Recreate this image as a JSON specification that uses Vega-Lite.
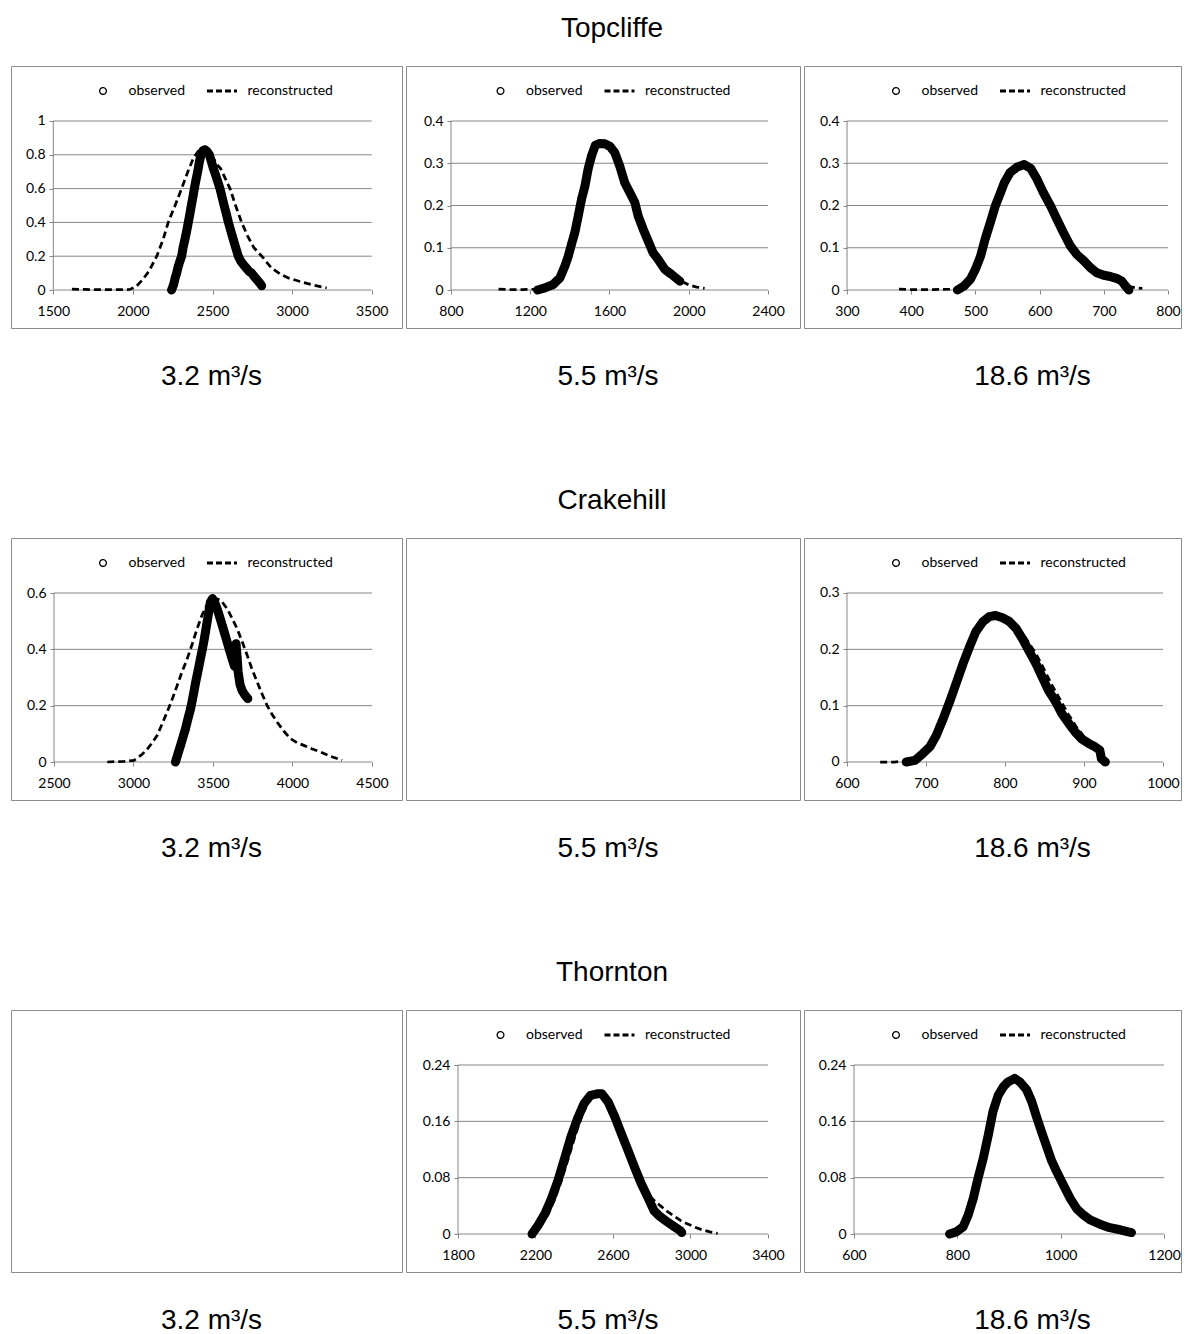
{
"$schema":"https://vega.github.io/schema/vega-lite/v6.json",
"padding":{"left":10,"top":14,"right":5,"bottom":5},
"background":"white",
"spacing":94,
"resolve":{"scale":{"shape":"independent","size":"independent","strokeDash":"independent","strokeWidth":"independent"},"legend":{"shape":"independent","size":"independent","strokeDash":"independent","strokeWidth":"independent"}},
"config":{
 "view":{"stroke":"#8c8c8c","strokeWidth":1},
 "title":{"font":"Liberation Sans","fontSize":28,"fontWeight":"normal","color":"black","anchor":"middle"},
 "axis":{"labelFont":"Lato","labelFontSize":14,"labelColor":"black","tickColor":"#868686","tickSize":4,"tickWidth":1,"domain":false,"grid":false,"labelOverlap":false,"labelFlush":false},
 "axisY":{"labelExpr":"'' + datum.value"},
 "legend":{"labelFont":"Lato","labelFontSize":14,"labelColor":"black","labelOffset":9,"columnPadding":20,"padding":0,"columns":2,"direction":"horizontal","clipHeight":16}
},
"datasets":{
"c":[
{"p":"T1","s":"grid","x":1500,"y":0},{"p":"T1","s":"grid","x":1500,"y":0.2},{"p":"T1","s":"grid","x":1500,"y":0.4},{"p":"T1","s":"grid","x":1500,"y":0.6},{"p":"T1","s":"grid","x":1500,"y":0.8},{"p":"T1","s":"grid","x":1500,"y":1},
{"p":"T2","s":"grid","x":800,"y":0},{"p":"T2","s":"grid","x":800,"y":0.1},{"p":"T2","s":"grid","x":800,"y":0.2},{"p":"T2","s":"grid","x":800,"y":0.3},{"p":"T2","s":"grid","x":800,"y":0.4},
{"p":"T3","s":"grid","x":300,"y":0},{"p":"T3","s":"grid","x":300,"y":0.1},{"p":"T3","s":"grid","x":300,"y":0.2},{"p":"T3","s":"grid","x":300,"y":0.3},{"p":"T3","s":"grid","x":300,"y":0.4},
{"p":"C1","s":"grid","x":2500,"y":0},{"p":"C1","s":"grid","x":2500,"y":0.2},{"p":"C1","s":"grid","x":2500,"y":0.4},{"p":"C1","s":"grid","x":2500,"y":0.6},
{"p":"C3","s":"grid","x":600,"y":0},{"p":"C3","s":"grid","x":600,"y":0.1},{"p":"C3","s":"grid","x":600,"y":0.2},{"p":"C3","s":"grid","x":600,"y":0.3},
{"p":"H2","s":"grid","x":1800,"y":0},{"p":"H2","s":"grid","x":1800,"y":0.08},{"p":"H2","s":"grid","x":1800,"y":0.16},{"p":"H2","s":"grid","x":1800,"y":0.24},
{"p":"H3","s":"grid","x":600,"y":0},{"p":"H3","s":"grid","x":600,"y":0.08},{"p":"H3","s":"grid","x":600,"y":0.16},{"p":"H3","s":"grid","x":600,"y":0.24},
{"p":"T1","s":"observed","x":2243,"y":0},{"p":"T1","s":"observed","x":2255,"y":0.03},{"p":"T1","s":"observed","x":2265,"y":0.07},{"p":"T1","s":"observed","x":2275,"y":0.1},{"p":"T1","s":"observed","x":2285,"y":0.14},{"p":"T1","s":"observed","x":2295,"y":0.17},{"p":"T1","s":"observed","x":2306,"y":0.2},{"p":"T1","s":"observed","x":2315,"y":0.25},{"p":"T1","s":"observed","x":2327,"y":0.3},{"p":"T1","s":"observed","x":2338,"y":0.35},{"p":"T1","s":"observed","x":2348,"y":0.4},{"p":"T1","s":"observed","x":2358,"y":0.45},{"p":"T1","s":"observed","x":2367,"y":0.5},{"p":"T1","s":"observed","x":2377,"y":0.55},{"p":"T1","s":"observed","x":2386,"y":0.6},{"p":"T1","s":"observed","x":2396,"y":0.65},{"p":"T1","s":"observed","x":2407,"y":0.7},{"p":"T1","s":"observed","x":2418,"y":0.76},{"p":"T1","s":"observed","x":2428,"y":0.8},{"p":"T1","s":"observed","x":2440,"y":0.825},{"p":"T1","s":"observed","x":2453,"y":0.83},{"p":"T1","s":"observed","x":2466,"y":0.82},{"p":"T1","s":"observed","x":2480,"y":0.8},{"p":"T1","s":"observed","x":2493,"y":0.76},{"p":"T1","s":"observed","x":2505,"y":0.72},{"p":"T1","s":"observed","x":2516,"y":0.69},{"p":"T1","s":"observed","x":2530,"y":0.65},{"p":"T1","s":"observed","x":2547,"y":0.6},{"p":"T1","s":"observed","x":2560,"y":0.55},{"p":"T1","s":"observed","x":2573,"y":0.5},{"p":"T1","s":"observed","x":2587,"y":0.45},{"p":"T1","s":"observed","x":2600,"y":0.4},{"p":"T1","s":"observed","x":2615,"y":0.35},{"p":"T1","s":"observed","x":2630,"y":0.3},{"p":"T1","s":"observed","x":2646,"y":0.25},{"p":"T1","s":"observed","x":2662,"y":0.2},{"p":"T1","s":"observed","x":2678,"y":0.17},{"p":"T1","s":"observed","x":2694,"y":0.15},{"p":"T1","s":"observed","x":2712,"y":0.13},{"p":"T1","s":"observed","x":2730,"y":0.11},{"p":"T1","s":"observed","x":2746,"y":0.1},{"p":"T1","s":"observed","x":2762,"y":0.08},{"p":"T1","s":"observed","x":2780,"y":0.06},{"p":"T1","s":"observed","x":2798,"y":0.04},{"p":"T1","s":"observed","x":2809,"y":0.025},
{"p":"T1","s":"reconstructed","x":1617,"y":0.005},{"p":"T1","s":"reconstructed","x":1700,"y":0.003},{"p":"T1","s":"reconstructed","x":1800,"y":0.002},{"p":"T1","s":"reconstructed","x":1900,"y":0.002},{"p":"T1","s":"reconstructed","x":1980,"y":0.003},{"p":"T1","s":"reconstructed","x":2020,"y":0.02},{"p":"T1","s":"reconstructed","x":2060,"y":0.06},{"p":"T1","s":"reconstructed","x":2100,"y":0.11},{"p":"T1","s":"reconstructed","x":2150,"y":0.2},{"p":"T1","s":"reconstructed","x":2190,"y":0.3},{"p":"T1","s":"reconstructed","x":2222,"y":0.4},{"p":"T1","s":"reconstructed","x":2243,"y":0.45},{"p":"T1","s":"reconstructed","x":2265,"y":0.5},{"p":"T1","s":"reconstructed","x":2306,"y":0.6},{"p":"T1","s":"reconstructed","x":2345,"y":0.7},{"p":"T1","s":"reconstructed","x":2380,"y":0.78},{"p":"T1","s":"reconstructed","x":2410,"y":0.82},{"p":"T1","s":"reconstructed","x":2440,"y":0.835},{"p":"T1","s":"reconstructed","x":2470,"y":0.82},{"p":"T1","s":"reconstructed","x":2505,"y":0.78},{"p":"T1","s":"reconstructed","x":2530,"y":0.74},{"p":"T1","s":"reconstructed","x":2550,"y":0.72},{"p":"T1","s":"reconstructed","x":2580,"y":0.66},{"p":"T1","s":"reconstructed","x":2610,"y":0.6},{"p":"T1","s":"reconstructed","x":2645,"y":0.5},{"p":"T1","s":"reconstructed","x":2683,"y":0.4},{"p":"T1","s":"reconstructed","x":2720,"y":0.32},{"p":"T1","s":"reconstructed","x":2760,"y":0.25},{"p":"T1","s":"reconstructed","x":2819,"y":0.19},{"p":"T1","s":"reconstructed","x":2870,"y":0.13},{"p":"T1","s":"reconstructed","x":2924,"y":0.095},{"p":"T1","s":"reconstructed","x":2980,"y":0.07},{"p":"T1","s":"reconstructed","x":3050,"y":0.05},{"p":"T1","s":"reconstructed","x":3130,"y":0.03},{"p":"T1","s":"reconstructed","x":3217,"y":0.012},
{"p":"T2","s":"observed","x":1237,"y":0},{"p":"T2","s":"observed","x":1274,"y":0.005},{"p":"T2","s":"observed","x":1316,"y":0.013},{"p":"T2","s":"observed","x":1350,"y":0.029},{"p":"T2","s":"observed","x":1375,"y":0.057},{"p":"T2","s":"observed","x":1392,"y":0.08},{"p":"T2","s":"observed","x":1408,"y":0.108},{"p":"T2","s":"observed","x":1425,"y":0.136},{"p":"T2","s":"observed","x":1442,"y":0.175},{"p":"T2","s":"observed","x":1459,"y":0.215},{"p":"T2","s":"observed","x":1476,"y":0.246},{"p":"T2","s":"observed","x":1492,"y":0.286},{"p":"T2","s":"observed","x":1509,"y":0.317},{"p":"T2","s":"observed","x":1529,"y":0.343},{"p":"T2","s":"observed","x":1551,"y":0.347},{"p":"T2","s":"observed","x":1576,"y":0.346},{"p":"T2","s":"observed","x":1602,"y":0.34},{"p":"T2","s":"observed","x":1627,"y":0.325},{"p":"T2","s":"observed","x":1652,"y":0.293},{"p":"T2","s":"observed","x":1677,"y":0.254},{"p":"T2","s":"observed","x":1703,"y":0.23},{"p":"T2","s":"observed","x":1728,"y":0.207},{"p":"T2","s":"observed","x":1745,"y":0.175},{"p":"T2","s":"observed","x":1770,"y":0.144},{"p":"T2","s":"observed","x":1795,"y":0.116},{"p":"T2","s":"observed","x":1820,"y":0.088},{"p":"T2","s":"observed","x":1845,"y":0.073},{"p":"T2","s":"observed","x":1879,"y":0.049},{"p":"T2","s":"observed","x":1913,"y":0.037},{"p":"T2","s":"observed","x":1955,"y":0.021},
{"p":"T2","s":"reconstructed","x":1040,"y":0.002},{"p":"T2","s":"reconstructed","x":1100,"y":0.001},{"p":"T2","s":"reconstructed","x":1160,"y":0.001},{"p":"T2","s":"reconstructed","x":1220,"y":0.002},{"p":"T2","s":"reconstructed","x":1260,"y":0.004},{"p":"T2","s":"reconstructed","x":1310,"y":0.012},{"p":"T2","s":"reconstructed","x":1350,"y":0.03},{"p":"T2","s":"reconstructed","x":1380,"y":0.06},{"p":"T2","s":"reconstructed","x":1410,"y":0.105},{"p":"T2","s":"reconstructed","x":1440,"y":0.17},{"p":"T2","s":"reconstructed","x":1470,"y":0.235},{"p":"T2","s":"reconstructed","x":1500,"y":0.3},{"p":"T2","s":"reconstructed","x":1530,"y":0.34},{"p":"T2","s":"reconstructed","x":1560,"y":0.348},{"p":"T2","s":"reconstructed","x":1590,"y":0.345},{"p":"T2","s":"reconstructed","x":1620,"y":0.33},{"p":"T2","s":"reconstructed","x":1650,"y":0.295},{"p":"T2","s":"reconstructed","x":1680,"y":0.25},{"p":"T2","s":"reconstructed","x":1710,"y":0.225},{"p":"T2","s":"reconstructed","x":1740,"y":0.18},{"p":"T2","s":"reconstructed","x":1770,"y":0.145},{"p":"T2","s":"reconstructed","x":1800,"y":0.11},{"p":"T2","s":"reconstructed","x":1830,"y":0.083},{"p":"T2","s":"reconstructed","x":1860,"y":0.062},{"p":"T2","s":"reconstructed","x":1900,"y":0.042},{"p":"T2","s":"reconstructed","x":1950,"y":0.024},{"p":"T2","s":"reconstructed","x":2000,"y":0.012},{"p":"T2","s":"reconstructed","x":2040,"y":0.007},{"p":"T2","s":"reconstructed","x":2080,"y":0.004},
{"p":"T3","s":"observed","x":472,"y":0},{"p":"T3","s":"observed","x":482,"y":0.009},{"p":"T3","s":"observed","x":492,"y":0.025},{"p":"T3","s":"observed","x":500,"y":0.049},{"p":"T3","s":"observed","x":508,"y":0.08},{"p":"T3","s":"observed","x":515,"y":0.12},{"p":"T3","s":"observed","x":523,"y":0.159},{"p":"T3","s":"observed","x":531,"y":0.199},{"p":"T3","s":"observed","x":539,"y":0.23},{"p":"T3","s":"observed","x":545,"y":0.254},{"p":"T3","s":"observed","x":554,"y":0.278},{"p":"T3","s":"observed","x":565,"y":0.291},{"p":"T3","s":"observed","x":576,"y":0.297},{"p":"T3","s":"observed","x":586,"y":0.288},{"p":"T3","s":"observed","x":596,"y":0.262},{"p":"T3","s":"observed","x":606,"y":0.23},{"p":"T3","s":"observed","x":617,"y":0.199},{"p":"T3","s":"observed","x":627,"y":0.167},{"p":"T3","s":"observed","x":637,"y":0.136},{"p":"T3","s":"observed","x":648,"y":0.104},{"p":"T3","s":"observed","x":658,"y":0.084},{"p":"T3","s":"observed","x":669,"y":0.069},{"p":"T3","s":"observed","x":679,"y":0.053},{"p":"T3","s":"observed","x":689,"y":0.041},{"p":"T3","s":"observed","x":700,"y":0.035},{"p":"T3","s":"observed","x":710,"y":0.032},{"p":"T3","s":"observed","x":721,"y":0.027},{"p":"T3","s":"observed","x":728,"y":0.021},{"p":"T3","s":"observed","x":734,"y":0.009},{"p":"T3","s":"observed","x":739,"y":0},
{"p":"T3","s":"reconstructed","x":381,"y":0.002},{"p":"T3","s":"reconstructed","x":400,"y":0.001},{"p":"T3","s":"reconstructed","x":430,"y":0.001},{"p":"T3","s":"reconstructed","x":460,"y":0.002},{"p":"T3","s":"reconstructed","x":475,"y":0.004},{"p":"T3","s":"reconstructed","x":490,"y":0.015},{"p":"T3","s":"reconstructed","x":500,"y":0.045},{"p":"T3","s":"reconstructed","x":510,"y":0.09},{"p":"T3","s":"reconstructed","x":520,"y":0.14},{"p":"T3","s":"reconstructed","x":530,"y":0.195},{"p":"T3","s":"reconstructed","x":540,"y":0.24},{"p":"T3","s":"reconstructed","x":550,"y":0.27},{"p":"T3","s":"reconstructed","x":560,"y":0.29},{"p":"T3","s":"reconstructed","x":575,"y":0.298},{"p":"T3","s":"reconstructed","x":590,"y":0.282},{"p":"T3","s":"reconstructed","x":600,"y":0.25},{"p":"T3","s":"reconstructed","x":610,"y":0.22},{"p":"T3","s":"reconstructed","x":620,"y":0.19},{"p":"T3","s":"reconstructed","x":630,"y":0.16},{"p":"T3","s":"reconstructed","x":640,"y":0.13},{"p":"T3","s":"reconstructed","x":650,"y":0.1},{"p":"T3","s":"reconstructed","x":660,"y":0.082},{"p":"T3","s":"reconstructed","x":670,"y":0.066},{"p":"T3","s":"reconstructed","x":680,"y":0.052},{"p":"T3","s":"reconstructed","x":690,"y":0.04},{"p":"T3","s":"reconstructed","x":700,"y":0.03},{"p":"T3","s":"reconstructed","x":710,"y":0.025},{"p":"T3","s":"reconstructed","x":720,"y":0.02},{"p":"T3","s":"reconstructed","x":730,"y":0.014},{"p":"T3","s":"reconstructed","x":740,"y":0.008},{"p":"T3","s":"reconstructed","x":750,"y":0.005},{"p":"T3","s":"reconstructed","x":760,"y":0.004},
{"p":"C1","s":"observed","x":3264,"y":0},{"p":"C1","s":"observed","x":3280,"y":0.03},{"p":"C1","s":"observed","x":3296,"y":0.059},{"p":"C1","s":"observed","x":3312,"y":0.09},{"p":"C1","s":"observed","x":3327,"y":0.118},{"p":"C1","s":"observed","x":3343,"y":0.155},{"p":"C1","s":"observed","x":3359,"y":0.189},{"p":"C1","s":"observed","x":3370,"y":0.22},{"p":"C1","s":"observed","x":3380,"y":0.249},{"p":"C1","s":"observed","x":3390,"y":0.28},{"p":"C1","s":"observed","x":3400,"y":0.308},{"p":"C1","s":"observed","x":3411,"y":0.338},{"p":"C1","s":"observed","x":3421,"y":0.367},{"p":"C1","s":"observed","x":3432,"y":0.397},{"p":"C1","s":"observed","x":3442,"y":0.426},{"p":"C1","s":"observed","x":3452,"y":0.46},{"p":"C1","s":"observed","x":3463,"y":0.497},{"p":"C1","s":"observed","x":3474,"y":0.535},{"p":"C1","s":"observed","x":3484,"y":0.568},{"p":"C1","s":"observed","x":3497,"y":0.58},{"p":"C1","s":"observed","x":3512,"y":0.565},{"p":"C1","s":"observed","x":3526,"y":0.544},{"p":"C1","s":"observed","x":3542,"y":0.515},{"p":"C1","s":"observed","x":3558,"y":0.485},{"p":"C1","s":"observed","x":3574,"y":0.455},{"p":"C1","s":"observed","x":3589,"y":0.426},{"p":"C1","s":"observed","x":3605,"y":0.395},{"p":"C1","s":"observed","x":3620,"y":0.367},{"p":"C1","s":"observed","x":3635,"y":0.34},{"p":"C1","s":"observed","x":3645,"y":0.42},{"p":"C1","s":"observed","x":3652,"y":0.37},{"p":"C1","s":"observed","x":3658,"y":0.32},{"p":"C1","s":"observed","x":3670,"y":0.275},{"p":"C1","s":"observed","x":3683,"y":0.254},{"p":"C1","s":"observed","x":3700,"y":0.238},{"p":"C1","s":"observed","x":3719,"y":0.225},
{"p":"C1","s":"reconstructed","x":2835,"y":0},{"p":"C1","s":"reconstructed","x":2880,"y":0.001},{"p":"C1","s":"reconstructed","x":2940,"y":0.002},{"p":"C1","s":"reconstructed","x":3003,"y":0.006},{"p":"C1","s":"reconstructed","x":3050,"y":0.025},{"p":"C1","s":"reconstructed","x":3086,"y":0.045},{"p":"C1","s":"reconstructed","x":3120,"y":0.07},{"p":"C1","s":"reconstructed","x":3149,"y":0.095},{"p":"C1","s":"reconstructed","x":3180,"y":0.135},{"p":"C1","s":"reconstructed","x":3212,"y":0.178},{"p":"C1","s":"reconstructed","x":3245,"y":0.225},{"p":"C1","s":"reconstructed","x":3275,"y":0.272},{"p":"C1","s":"reconstructed","x":3305,"y":0.32},{"p":"C1","s":"reconstructed","x":3338,"y":0.367},{"p":"C1","s":"reconstructed","x":3370,"y":0.42},{"p":"C1","s":"reconstructed","x":3400,"y":0.473},{"p":"C1","s":"reconstructed","x":3430,"y":0.52},{"p":"C1","s":"reconstructed","x":3460,"y":0.556},{"p":"C1","s":"reconstructed","x":3490,"y":0.575},{"p":"C1","s":"reconstructed","x":3520,"y":0.58},{"p":"C1","s":"reconstructed","x":3550,"y":0.574},{"p":"C1","s":"reconstructed","x":3589,"y":0.544},{"p":"C1","s":"reconstructed","x":3620,"y":0.51},{"p":"C1","s":"reconstructed","x":3652,"y":0.473},{"p":"C1","s":"reconstructed","x":3685,"y":0.425},{"p":"C1","s":"reconstructed","x":3715,"y":0.379},{"p":"C1","s":"reconstructed","x":3745,"y":0.33},{"p":"C1","s":"reconstructed","x":3778,"y":0.284},{"p":"C1","s":"reconstructed","x":3810,"y":0.24},{"p":"C1","s":"reconstructed","x":3840,"y":0.201},{"p":"C1","s":"reconstructed","x":3870,"y":0.17},{"p":"C1","s":"reconstructed","x":3903,"y":0.142},{"p":"C1","s":"reconstructed","x":3945,"y":0.11},{"p":"C1","s":"reconstructed","x":3987,"y":0.083},{"p":"C1","s":"reconstructed","x":4030,"y":0.068},{"p":"C1","s":"reconstructed","x":4071,"y":0.059},{"p":"C1","s":"reconstructed","x":4120,"y":0.047},{"p":"C1","s":"reconstructed","x":4175,"y":0.036},{"p":"C1","s":"reconstructed","x":4240,"y":0.02},{"p":"C1","s":"reconstructed","x":4312,"y":0.006},
{"p":"C3","s":"observed","x":675,"y":0},{"p":"C3","s":"observed","x":686,"y":0.003},{"p":"C3","s":"observed","x":696,"y":0.015},{"p":"C3","s":"observed","x":705,"y":0.027},{"p":"C3","s":"observed","x":713,"y":0.047},{"p":"C3","s":"observed","x":721,"y":0.074},{"p":"C3","s":"observed","x":730,"y":0.107},{"p":"C3","s":"observed","x":738,"y":0.139},{"p":"C3","s":"observed","x":747,"y":0.175},{"p":"C3","s":"observed","x":755,"y":0.204},{"p":"C3","s":"observed","x":763,"y":0.231},{"p":"C3","s":"observed","x":772,"y":0.249},{"p":"C3","s":"observed","x":780,"y":0.258},{"p":"C3","s":"observed","x":788,"y":0.26},{"p":"C3","s":"observed","x":797,"y":0.256},{"p":"C3","s":"observed","x":805,"y":0.25},{"p":"C3","s":"observed","x":814,"y":0.237},{"p":"C3","s":"observed","x":822,"y":0.219},{"p":"C3","s":"observed","x":830,"y":0.198},{"p":"C3","s":"observed","x":839,"y":0.175},{"p":"C3","s":"observed","x":847,"y":0.151},{"p":"C3","s":"observed","x":855,"y":0.127},{"p":"C3","s":"observed","x":864,"y":0.107},{"p":"C3","s":"observed","x":872,"y":0.086},{"p":"C3","s":"observed","x":881,"y":0.068},{"p":"C3","s":"observed","x":889,"y":0.053},{"p":"C3","s":"observed","x":897,"y":0.041},{"p":"C3","s":"observed","x":906,"y":0.033},{"p":"C3","s":"observed","x":914,"y":0.027},{"p":"C3","s":"observed","x":920,"y":0.021},{"p":"C3","s":"observed","x":922,"y":0.006},{"p":"C3","s":"observed","x":927,"y":0},
{"p":"C3","s":"reconstructed","x":642,"y":0},{"p":"C3","s":"reconstructed","x":660,"y":0},{"p":"C3","s":"reconstructed","x":675,"y":0.002},{"p":"C3","s":"reconstructed","x":690,"y":0.008},{"p":"C3","s":"reconstructed","x":700,"y":0.018},{"p":"C3","s":"reconstructed","x":712,"y":0.045},{"p":"C3","s":"reconstructed","x":722,"y":0.075},{"p":"C3","s":"reconstructed","x":731,"y":0.107},{"p":"C3","s":"reconstructed","x":740,"y":0.14},{"p":"C3","s":"reconstructed","x":748,"y":0.175},{"p":"C3","s":"reconstructed","x":757,"y":0.205},{"p":"C3","s":"reconstructed","x":765,"y":0.232},{"p":"C3","s":"reconstructed","x":773,"y":0.25},{"p":"C3","s":"reconstructed","x":782,"y":0.258},{"p":"C3","s":"reconstructed","x":790,"y":0.26},{"p":"C3","s":"reconstructed","x":800,"y":0.256},{"p":"C3","s":"reconstructed","x":810,"y":0.247},{"p":"C3","s":"reconstructed","x":820,"y":0.233},{"p":"C3","s":"reconstructed","x":830,"y":0.212},{"p":"C3","s":"reconstructed","x":840,"y":0.19},{"p":"C3","s":"reconstructed","x":850,"y":0.163},{"p":"C3","s":"reconstructed","x":860,"y":0.135},{"p":"C3","s":"reconstructed","x":870,"y":0.11},{"p":"C3","s":"reconstructed","x":880,"y":0.085},{"p":"C3","s":"reconstructed","x":890,"y":0.063},{"p":"C3","s":"reconstructed","x":900,"y":0.045},{"p":"C3","s":"reconstructed","x":910,"y":0.033},{"p":"C3","s":"reconstructed","x":918,"y":0.025},{"p":"C3","s":"reconstructed","x":924,"y":0.01},{"p":"C3","s":"reconstructed","x":928,"y":0.002},
{"p":"H2","s":"observed","x":2182,"y":0},{"p":"H2","s":"observed","x":2215,"y":0.013},{"p":"H2","s":"observed","x":2249,"y":0.029},{"p":"H2","s":"observed","x":2282,"y":0.05},{"p":"H2","s":"observed","x":2316,"y":0.076},{"p":"H2","s":"observed","x":2350,"y":0.107},{"p":"H2","s":"observed","x":2383,"y":0.138},{"p":"H2","s":"observed","x":2417,"y":0.164},{"p":"H2","s":"observed","x":2450,"y":0.185},{"p":"H2","s":"observed","x":2484,"y":0.197},{"p":"H2","s":"observed","x":2518,"y":0.199},{"p":"H2","s":"observed","x":2543,"y":0.199},{"p":"H2","s":"observed","x":2576,"y":0.187},{"p":"H2","s":"observed","x":2610,"y":0.166},{"p":"H2","s":"observed","x":2644,"y":0.142},{"p":"H2","s":"observed","x":2677,"y":0.119},{"p":"H2","s":"observed","x":2711,"y":0.095},{"p":"H2","s":"observed","x":2745,"y":0.072},{"p":"H2","s":"observed","x":2778,"y":0.053},{"p":"H2","s":"observed","x":2812,"y":0.033},{"p":"H2","s":"observed","x":2837,"y":0.026},{"p":"H2","s":"observed","x":2871,"y":0.019},{"p":"H2","s":"observed","x":2913,"y":0.011},{"p":"H2","s":"observed","x":2946,"y":0.005},{"p":"H2","s":"observed","x":2955,"y":0.002},
{"p":"H2","s":"reconstructed","x":2195,"y":0},{"p":"H2","s":"reconstructed","x":2230,"y":0.012},{"p":"H2","s":"reconstructed","x":2265,"y":0.028},{"p":"H2","s":"reconstructed","x":2300,"y":0.05},{"p":"H2","s":"reconstructed","x":2335,"y":0.077},{"p":"H2","s":"reconstructed","x":2370,"y":0.108},{"p":"H2","s":"reconstructed","x":2405,"y":0.14},{"p":"H2","s":"reconstructed","x":2440,"y":0.168},{"p":"H2","s":"reconstructed","x":2475,"y":0.19},{"p":"H2","s":"reconstructed","x":2510,"y":0.199},{"p":"H2","s":"reconstructed","x":2540,"y":0.2},{"p":"H2","s":"reconstructed","x":2575,"y":0.188},{"p":"H2","s":"reconstructed","x":2610,"y":0.166},{"p":"H2","s":"reconstructed","x":2645,"y":0.142},{"p":"H2","s":"reconstructed","x":2680,"y":0.118},{"p":"H2","s":"reconstructed","x":2715,"y":0.094},{"p":"H2","s":"reconstructed","x":2750,"y":0.071},{"p":"H2","s":"reconstructed","x":2785,"y":0.055},{"p":"H2","s":"reconstructed","x":2815,"y":0.047},{"p":"H2","s":"reconstructed","x":2845,"y":0.04},{"p":"H2","s":"reconstructed","x":2880,"y":0.032},{"p":"H2","s":"reconstructed","x":2913,"y":0.026},{"p":"H2","s":"reconstructed","x":2950,"y":0.019},{"p":"H2","s":"reconstructed","x":2980,"y":0.015},{"p":"H2","s":"reconstructed","x":3020,"y":0.01},{"p":"H2","s":"reconstructed","x":3060,"y":0.006},{"p":"H2","s":"reconstructed","x":3100,"y":0.003},{"p":"H2","s":"reconstructed","x":3140,"y":0.001},
{"p":"H3","s":"observed","x":785,"y":0},{"p":"H3","s":"observed","x":798,"y":0.003},{"p":"H3","s":"observed","x":811,"y":0.01},{"p":"H3","s":"observed","x":821,"y":0.027},{"p":"H3","s":"observed","x":831,"y":0.051},{"p":"H3","s":"observed","x":840,"y":0.079},{"p":"H3","s":"observed","x":850,"y":0.107},{"p":"H3","s":"observed","x":860,"y":0.141},{"p":"H3","s":"observed","x":869,"y":0.174},{"p":"H3","s":"observed","x":879,"y":0.197},{"p":"H3","s":"observed","x":889,"y":0.209},{"p":"H3","s":"observed","x":898,"y":0.216},{"p":"H3","s":"observed","x":911,"y":0.221},{"p":"H3","s":"observed","x":921,"y":0.216},{"p":"H3","s":"observed","x":934,"y":0.205},{"p":"H3","s":"observed","x":944,"y":0.188},{"p":"H3","s":"observed","x":953,"y":0.167},{"p":"H3","s":"observed","x":963,"y":0.145},{"p":"H3","s":"observed","x":973,"y":0.124},{"p":"H3","s":"observed","x":982,"y":0.105},{"p":"H3","s":"observed","x":992,"y":0.089},{"p":"H3","s":"observed","x":1005,"y":0.07},{"p":"H3","s":"observed","x":1018,"y":0.051},{"p":"H3","s":"observed","x":1031,"y":0.036},{"p":"H3","s":"observed","x":1044,"y":0.027},{"p":"H3","s":"observed","x":1057,"y":0.02},{"p":"H3","s":"observed","x":1076,"y":0.014},{"p":"H3","s":"observed","x":1095,"y":0.009},{"p":"H3","s":"observed","x":1115,"y":0.006},{"p":"H3","s":"observed","x":1131,"y":0.003},{"p":"H3","s":"observed","x":1137,"y":0.002},
{"p":"H3","s":"reconstructed","x":790,"y":0},{"p":"H3","s":"reconstructed","x":800,"y":0.003},{"p":"H3","s":"reconstructed","x":812,"y":0.01},{"p":"H3","s":"reconstructed","x":822,"y":0.027},{"p":"H3","s":"reconstructed","x":832,"y":0.052},{"p":"H3","s":"reconstructed","x":841,"y":0.08},{"p":"H3","s":"reconstructed","x":851,"y":0.108},{"p":"H3","s":"reconstructed","x":861,"y":0.142},{"p":"H3","s":"reconstructed","x":870,"y":0.175},{"p":"H3","s":"reconstructed","x":880,"y":0.198},{"p":"H3","s":"reconstructed","x":890,"y":0.21},{"p":"H3","s":"reconstructed","x":900,"y":0.217},{"p":"H3","s":"reconstructed","x":911,"y":0.222},{"p":"H3","s":"reconstructed","x":922,"y":0.216},{"p":"H3","s":"reconstructed","x":935,"y":0.204},{"p":"H3","s":"reconstructed","x":945,"y":0.187},{"p":"H3","s":"reconstructed","x":954,"y":0.166},{"p":"H3","s":"reconstructed","x":964,"y":0.144},{"p":"H3","s":"reconstructed","x":974,"y":0.123},{"p":"H3","s":"reconstructed","x":983,"y":0.104},{"p":"H3","s":"reconstructed","x":993,"y":0.088},{"p":"H3","s":"reconstructed","x":1006,"y":0.069},{"p":"H3","s":"reconstructed","x":1019,"y":0.05},{"p":"H3","s":"reconstructed","x":1032,"y":0.036},{"p":"H3","s":"reconstructed","x":1045,"y":0.026},{"p":"H3","s":"reconstructed","x":1058,"y":0.019},{"p":"H3","s":"reconstructed","x":1077,"y":0.013},{"p":"H3","s":"reconstructed","x":1096,"y":0.008},{"p":"H3","s":"reconstructed","x":1116,"y":0.005},{"p":"H3","s":"reconstructed","x":1132,"y":0.003},{"p":"H3","s":"reconstructed","x":1140,"y":0.002}
]
},
"vconcat":[
{"title":{"text":"Topcliffe","anchor":"middle","dx":16,"offset":23},"spacing":2,
 "resolve":{"scale":{"shape":"independent","size":"independent","strokeDash":"independent","strokeWidth":"independent"},"legend":{"shape":"independent","size":"independent","strokeDash":"independent","strokeWidth":"independent"}},
 "hconcat":[
 {"width":391,"height":262,"data":{"name":"c"},
  "title":{"text":"3.2 m³/s","orient":"bottom","anchor":"middle","offset":35,"dx":5},
  "encoding":{
   "x":{"field":"x","type":"quantitative","scale":{"domain":[1234.3,3690.3],"nice":false,"zero":false},"axis":{"title":null,"values":[1500,2000,2500,3000,3500],"offset":-38,"format":"d","labelPadding":10}},
   "y":{"field":"y","type":"quantitative","scale":{"domain":[-0.22485,1.32544],"nice":false,"zero":false},"axis":{"title":null,"values":[0,0.2,0.4,0.6,0.8,1],"offset":-42,"labelPadding":4}}},
  "layer":[
   {"transform":[{"filter":"datum.p==='T1' && datum.s==='grid'"}],"mark":{"type":"rule","color":"#868686","strokeWidth":1},"encoding":{"x":{"datum":1500,"type":"quantitative"},"x2":{"datum":3500}}},
   {"transform":[{"filter":"datum.p==='T1' && datum.s==='grid' && datum.y===0"}],"mark":{"type":"rule","color":"#868686","strokeWidth":1},"encoding":{"x":{"datum":1500,"type":"quantitative"},"y":{"datum":0,"type":"quantitative"},"y2":{"datum":1}}},
   {"transform":[{"filter":"datum.p==='T1' && datum.s==='observed'"}],"mark":{"type":"line","color":"black","strokeWidth":9,"strokeCap":"round","strokeJoin":"round"}},
   {"transform":[{"filter":"datum.p==='T1' && datum.s==='observed'"}],"mark":{"type":"point","filled":false,"color":"black","opacity":1},
    "encoding":{
     "shape":{"field":"s","type":"nominal","scale":{"domain":["observed","reconstructed"],"range":["circle","stroke"]},"legend":{"title":null,"orient":"none","legendX":75.5,"legendY":17}},
     "size":{"field":"s","type":"nominal","scale":{"type":"point","padding":0,"domain":["observed","reconstructed"],"range":[45,900]},"legend":{"title":null,"orient":"none","legendX":75.5,"legendY":17}},
     "strokeDash":{"field":"s","type":"nominal","scale":{"domain":["observed","reconstructed"],"range":[[1,0],[6,3]]},"legend":{"title":null,"orient":"none","legendX":75.5,"legendY":17}},
     "strokeWidth":{"field":"s","type":"nominal","scale":{"type":"point","padding":0,"domain":["observed","reconstructed"],"range":[1.3,2.8]},"legend":{"title":null,"orient":"none","legendX":75.5,"legendY":17}}}},
   {"transform":[{"filter":"datum.p==='T1' && datum.s==='reconstructed'"}],"mark":{"type":"line","color":"black","strokeWidth":2.75,"strokeDash":[7,4]}}
  ]},
 {"width":394,"height":262,"data":{"name":"c"},
  "title":{"text":"5.5 m³/s","orient":"bottom","anchor":"middle","offset":35,"dx":5},
  "encoding":{
   "x":{"field":"x","type":"quantitative","scale":{"domain":[572.9,2561.5],"nice":false,"zero":false},"axis":{"title":null,"values":[800,1200,1600,2000,2400],"offset":-38,"format":"d","labelPadding":10}},
   "y":{"field":"y","type":"quantitative","scale":{"domain":[-0.08994,0.53018],"nice":false,"zero":false},"axis":{"title":null,"values":[0,0.1,0.2,0.3,0.4],"offset":-45,"labelPadding":4}}},
  "layer":[
   {"transform":[{"filter":"datum.p==='T2' && datum.s==='grid'"}],"mark":{"type":"rule","color":"#868686","strokeWidth":1},"encoding":{"x":{"datum":800,"type":"quantitative"},"x2":{"datum":2400}}},
   {"transform":[{"filter":"datum.p==='T2' && datum.s==='grid' && datum.y===0"}],"mark":{"type":"rule","color":"#868686","strokeWidth":1},"encoding":{"x":{"datum":800,"type":"quantitative"},"y":{"datum":0,"type":"quantitative"},"y2":{"datum":0.4}}},
   {"transform":[{"filter":"datum.p==='T2' && datum.s==='observed'"}],"mark":{"type":"line","color":"black","strokeWidth":9,"strokeCap":"round","strokeJoin":"round"}},
   {"transform":[{"filter":"datum.p==='T2' && datum.s==='observed'"}],"mark":{"type":"point","filled":false,"color":"black","opacity":1},
    "encoding":{
     "shape":{"field":"s","type":"nominal","scale":{"domain":["observed","reconstructed"],"range":["circle","stroke"]},"legend":{"title":null,"orient":"none","legendX":78,"legendY":17}},
     "size":{"field":"s","type":"nominal","scale":{"type":"point","padding":0,"domain":["observed","reconstructed"],"range":[45,900]},"legend":{"title":null,"orient":"none","legendX":78,"legendY":17}},
     "strokeDash":{"field":"s","type":"nominal","scale":{"domain":["observed","reconstructed"],"range":[[1,0],[6,3]]},"legend":{"title":null,"orient":"none","legendX":78,"legendY":17}},
     "strokeWidth":{"field":"s","type":"nominal","scale":{"type":"point","padding":0,"domain":["observed","reconstructed"],"range":[1.3,2.8]},"legend":{"title":null,"orient":"none","legendX":78,"legendY":17}}}},
   {"transform":[{"filter":"datum.p==='T2' && datum.s==='reconstructed'"}],"mark":{"type":"line","color":"black","strokeWidth":2.75,"strokeDash":[7,4]}}
  ]},
 {"width":377,"height":262,"data":{"name":"c"},
  "title":{"text":"18.6 m³/s","orient":"bottom","anchor":"middle","offset":35,"dx":40},
  "encoding":{
   "x":{"field":"x","type":"quantitative","scale":{"domain":[233.0,820.2],"nice":false,"zero":false},"axis":{"title":null,"values":[300,400,500,600,700,800],"offset":-38,"format":"d","labelPadding":10}},
   "y":{"field":"y","type":"quantitative","scale":{"domain":[-0.08994,0.53018],"nice":false,"zero":false},"axis":{"title":null,"values":[0,0.1,0.2,0.3,0.4],"offset":-43,"labelPadding":4}}},
  "layer":[
   {"transform":[{"filter":"datum.p==='T3' && datum.s==='grid'"}],"mark":{"type":"rule","color":"#868686","strokeWidth":1},"encoding":{"x":{"datum":300,"type":"quantitative"},"x2":{"datum":800}}},
   {"transform":[{"filter":"datum.p==='T3' && datum.s==='grid' && datum.y===0"}],"mark":{"type":"rule","color":"#868686","strokeWidth":1},"encoding":{"x":{"datum":300,"type":"quantitative"},"y":{"datum":0,"type":"quantitative"},"y2":{"datum":0.4}}},
   {"transform":[{"filter":"datum.p==='T3' && datum.s==='observed'"}],"mark":{"type":"line","color":"black","strokeWidth":9,"strokeCap":"round","strokeJoin":"round"}},
   {"transform":[{"filter":"datum.p==='T3' && datum.s==='observed'"}],"mark":{"type":"point","filled":false,"color":"black","opacity":1},
    "encoding":{
     "shape":{"field":"s","type":"nominal","scale":{"domain":["observed","reconstructed"],"range":["circle","stroke"]},"legend":{"title":null,"orient":"none","legendX":75.5,"legendY":17}},
     "size":{"field":"s","type":"nominal","scale":{"type":"point","padding":0,"domain":["observed","reconstructed"],"range":[45,900]},"legend":{"title":null,"orient":"none","legendX":75.5,"legendY":17}},
     "strokeDash":{"field":"s","type":"nominal","scale":{"domain":["observed","reconstructed"],"range":[[1,0],[6,3]]},"legend":{"title":null,"orient":"none","legendX":75.5,"legendY":17}},
     "strokeWidth":{"field":"s","type":"nominal","scale":{"type":"point","padding":0,"domain":["observed","reconstructed"],"range":[1.3,2.8]},"legend":{"title":null,"orient":"none","legendX":75.5,"legendY":17}}}},
   {"transform":[{"filter":"datum.p==='T3' && datum.s==='reconstructed'"}],"mark":{"type":"line","color":"black","strokeWidth":2.75,"strokeDash":[7,4]}}
  ]}
 ]},
{"title":{"text":"Crakehill","anchor":"middle","dx":16,"offset":23},"spacing":2,
 "resolve":{"scale":{"shape":"independent","size":"independent","strokeDash":"independent","strokeWidth":"independent"},"legend":{"shape":"independent","size":"independent","strokeDash":"independent","strokeWidth":"independent"}},
 "hconcat":[
 {"width":391,"height":262,"data":{"name":"c"},
  "title":{"text":"3.2 m³/s","orient":"bottom","anchor":"middle","offset":35,"dx":5},
  "encoding":{
   "x":{"field":"x","type":"quantitative","scale":{"domain":[2229.6,4688.7],"nice":false,"zero":false},"axis":{"title":null,"values":[2500,3000,3500,4000,4500],"offset":-38,"format":"d","labelPadding":10}},
   "y":{"field":"y","type":"quantitative","scale":{"domain":[-0.13491,0.79527],"nice":false,"zero":false},"axis":{"title":null,"values":[0,0.2,0.4,0.6],"offset":-43,"labelPadding":4}}},
  "layer":[
   {"transform":[{"filter":"datum.p==='C1' && datum.s==='grid'"}],"mark":{"type":"rule","color":"#868686","strokeWidth":1},"encoding":{"x":{"datum":2500,"type":"quantitative"},"x2":{"datum":4500}}},
   {"transform":[{"filter":"datum.p==='C1' && datum.s==='grid' && datum.y===0"}],"mark":{"type":"rule","color":"#868686","strokeWidth":1},"encoding":{"x":{"datum":2500,"type":"quantitative"},"y":{"datum":0,"type":"quantitative"},"y2":{"datum":0.6}}},
   {"transform":[{"filter":"datum.p==='C1' && datum.s==='observed'"}],"mark":{"type":"line","color":"black","strokeWidth":9,"strokeCap":"round","strokeJoin":"round"}},
   {"transform":[{"filter":"datum.p==='C1' && datum.s==='observed'"}],"mark":{"type":"point","filled":false,"color":"black","opacity":1},
    "encoding":{
     "shape":{"field":"s","type":"nominal","scale":{"domain":["observed","reconstructed"],"range":["circle","stroke"]},"legend":{"title":null,"orient":"none","legendX":75.5,"legendY":17}},
     "size":{"field":"s","type":"nominal","scale":{"type":"point","padding":0,"domain":["observed","reconstructed"],"range":[45,900]},"legend":{"title":null,"orient":"none","legendX":75.5,"legendY":17}},
     "strokeDash":{"field":"s","type":"nominal","scale":{"domain":["observed","reconstructed"],"range":[[1,0],[6,3]]},"legend":{"title":null,"orient":"none","legendX":75.5,"legendY":17}},
     "strokeWidth":{"field":"s","type":"nominal","scale":{"type":"point","padding":0,"domain":["observed","reconstructed"],"range":[1.3,2.8]},"legend":{"title":null,"orient":"none","legendX":75.5,"legendY":17}}}},
   {"transform":[{"filter":"datum.p==='C1' && datum.s==='reconstructed'"}],"mark":{"type":"line","color":"black","strokeWidth":2.75,"strokeDash":[7,4]}}
  ]},
 {"width":394,"height":262,"data":{"name":"c"},"transform":[{"filter":"datum.p==='C2'"}],"mark":"point",
  "encoding":{"x":{"field":"x","type":"quantitative","axis":null},"y":{"field":"y","type":"quantitative","axis":null}},
  "title":{"text":"5.5 m³/s","orient":"bottom","anchor":"middle","offset":35,"dx":5}},
 {"width":377,"height":262,"data":{"name":"c"},
  "title":{"text":"18.6 m³/s","orient":"bottom","anchor":"middle","offset":35,"dx":40},
  "encoding":{
   "x":{"field":"x","type":"quantitative","scale":{"domain":[545.6,1022.8],"nice":false,"zero":false},"axis":{"title":null,"values":[600,700,800,900,1000],"offset":-38,"format":"d","labelPadding":10}},
   "y":{"field":"y","type":"quantitative","scale":{"domain":[-0.067456,0.39763],"nice":false,"zero":false},"axis":{"title":null,"values":[0,0.1,0.2,0.3],"offset":-43,"labelPadding":4}}},
  "layer":[
   {"transform":[{"filter":"datum.p==='C3' && datum.s==='grid'"}],"mark":{"type":"rule","color":"#868686","strokeWidth":1},"encoding":{"x":{"datum":600,"type":"quantitative"},"x2":{"datum":1000}}},
   {"transform":[{"filter":"datum.p==='C3' && datum.s==='grid' && datum.y===0"}],"mark":{"type":"rule","color":"#868686","strokeWidth":1},"encoding":{"x":{"datum":600,"type":"quantitative"},"y":{"datum":0,"type":"quantitative"},"y2":{"datum":0.3}}},
   {"transform":[{"filter":"datum.p==='C3' && datum.s==='observed'"}],"mark":{"type":"line","color":"black","strokeWidth":9,"strokeCap":"round","strokeJoin":"round"}},
   {"transform":[{"filter":"datum.p==='C3' && datum.s==='observed'"}],"mark":{"type":"point","filled":false,"color":"black","opacity":1},
    "encoding":{
     "shape":{"field":"s","type":"nominal","scale":{"domain":["observed","reconstructed"],"range":["circle","stroke"]},"legend":{"title":null,"orient":"none","legendX":75.5,"legendY":17}},
     "size":{"field":"s","type":"nominal","scale":{"type":"point","padding":0,"domain":["observed","reconstructed"],"range":[45,900]},"legend":{"title":null,"orient":"none","legendX":75.5,"legendY":17}},
     "strokeDash":{"field":"s","type":"nominal","scale":{"domain":["observed","reconstructed"],"range":[[1,0],[6,3]]},"legend":{"title":null,"orient":"none","legendX":75.5,"legendY":17}},
     "strokeWidth":{"field":"s","type":"nominal","scale":{"type":"point","padding":0,"domain":["observed","reconstructed"],"range":[1.3,2.8]},"legend":{"title":null,"orient":"none","legendX":75.5,"legendY":17}}}},
   {"transform":[{"filter":"datum.p==='C3' && datum.s==='reconstructed'"}],"mark":{"type":"line","color":"black","strokeWidth":2.75,"strokeDash":[7,4]}}
  ]}
 ]},
{"title":{"text":"Thornton","anchor":"middle","dx":16,"offset":23},"spacing":2,
 "resolve":{"scale":{"shape":"independent","size":"independent","strokeDash":"independent","strokeWidth":"independent"},"legend":{"shape":"independent","size":"independent","strokeDash":"independent","strokeWidth":"independent"}},
 "hconcat":[
 {"width":391,"height":262,"data":{"name":"c"},"transform":[{"filter":"datum.p==='H1'"}],"mark":"point",
  "encoding":{"x":{"field":"x","type":"quantitative","axis":null},"y":{"field":"y","type":"quantitative","axis":null}},
  "title":{"text":"3.2 m³/s","orient":"bottom","anchor":"middle","offset":35,"dx":5}},
 {"width":394,"height":262,"data":{"name":"c"},
  "title":{"text":"5.5 m³/s","orient":"bottom","anchor":"middle","offset":35,"dx":5},
  "encoding":{
   "x":{"field":"x","type":"quantitative","scale":{"domain":[1531.6,3565.2],"nice":false,"zero":false},"axis":{"title":null,"values":[1800,2200,2600,3000,3400],"offset":-38,"format":"d","labelPadding":10}},
   "y":{"field":"y","type":"quantitative","scale":{"domain":[-0.053964,0.31811],"nice":false,"zero":false},"axis":{"title":null,"values":[0,0.08,0.16,0.24],"offset":-52,"labelPadding":4}}},
  "layer":[
   {"transform":[{"filter":"datum.p==='H2' && datum.s==='grid'"}],"mark":{"type":"rule","color":"#868686","strokeWidth":1},"encoding":{"x":{"datum":1800,"type":"quantitative"},"x2":{"datum":3400}}},
   {"transform":[{"filter":"datum.p==='H2' && datum.s==='grid' && datum.y===0"}],"mark":{"type":"rule","color":"#868686","strokeWidth":1},"encoding":{"x":{"datum":1800,"type":"quantitative"},"y":{"datum":0,"type":"quantitative"},"y2":{"datum":0.24}}},
   {"transform":[{"filter":"datum.p==='H2' && datum.s==='observed'"}],"mark":{"type":"line","color":"black","strokeWidth":9,"strokeCap":"round","strokeJoin":"round"}},
   {"transform":[{"filter":"datum.p==='H2' && datum.s==='observed'"}],"mark":{"type":"point","filled":false,"color":"black","opacity":1},
    "encoding":{
     "shape":{"field":"s","type":"nominal","scale":{"domain":["observed","reconstructed"],"range":["circle","stroke"]},"legend":{"title":null,"orient":"none","legendX":78,"legendY":17}},
     "size":{"field":"s","type":"nominal","scale":{"type":"point","padding":0,"domain":["observed","reconstructed"],"range":[45,900]},"legend":{"title":null,"orient":"none","legendX":78,"legendY":17}},
     "strokeDash":{"field":"s","type":"nominal","scale":{"domain":["observed","reconstructed"],"range":[[1,0],[6,3]]},"legend":{"title":null,"orient":"none","legendX":78,"legendY":17}},
     "strokeWidth":{"field":"s","type":"nominal","scale":{"type":"point","padding":0,"domain":["observed","reconstructed"],"range":[1.3,2.8]},"legend":{"title":null,"orient":"none","legendX":78,"legendY":17}}}},
   {"transform":[{"filter":"datum.p==='H2' && datum.s==='reconstructed'"}],"mark":{"type":"line","color":"black","strokeWidth":2.75,"strokeDash":[7,4]}}
  ]},
 {"width":377,"height":262,"data":{"name":"c"},
  "title":{"text":"18.6 m³/s","orient":"bottom","anchor":"middle","offset":35,"dx":40},
  "encoding":{
   "x":{"field":"x","type":"quantitative","scale":{"domain":[503.2,1232.9],"nice":false,"zero":false},"axis":{"title":null,"values":[600,800,1000,1200],"offset":-38,"format":"d","labelPadding":10}},
   "y":{"field":"y","type":"quantitative","scale":{"domain":[-0.053964,0.31811],"nice":false,"zero":false},"axis":{"title":null,"values":[0,0.08,0.16,0.24],"offset":-50,"labelPadding":4}}},
  "layer":[
   {"transform":[{"filter":"datum.p==='H3' && datum.s==='grid'"}],"mark":{"type":"rule","color":"#868686","strokeWidth":1},"encoding":{"x":{"datum":600,"type":"quantitative"},"x2":{"datum":1200}}},
   {"transform":[{"filter":"datum.p==='H3' && datum.s==='grid' && datum.y===0"}],"mark":{"type":"rule","color":"#868686","strokeWidth":1},"encoding":{"x":{"datum":600,"type":"quantitative"},"y":{"datum":0,"type":"quantitative"},"y2":{"datum":0.24}}},
   {"transform":[{"filter":"datum.p==='H3' && datum.s==='observed'"}],"mark":{"type":"line","color":"black","strokeWidth":9,"strokeCap":"round","strokeJoin":"round"}},
   {"transform":[{"filter":"datum.p==='H3' && datum.s==='observed'"}],"mark":{"type":"point","filled":false,"color":"black","opacity":1},
    "encoding":{
     "shape":{"field":"s","type":"nominal","scale":{"domain":["observed","reconstructed"],"range":["circle","stroke"]},"legend":{"title":null,"orient":"none","legendX":75.5,"legendY":17}},
     "size":{"field":"s","type":"nominal","scale":{"type":"point","padding":0,"domain":["observed","reconstructed"],"range":[45,900]},"legend":{"title":null,"orient":"none","legendX":75.5,"legendY":17}},
     "strokeDash":{"field":"s","type":"nominal","scale":{"domain":["observed","reconstructed"],"range":[[1,0],[6,3]]},"legend":{"title":null,"orient":"none","legendX":75.5,"legendY":17}},
     "strokeWidth":{"field":"s","type":"nominal","scale":{"type":"point","padding":0,"domain":["observed","reconstructed"],"range":[1.3,2.8]},"legend":{"title":null,"orient":"none","legendX":75.5,"legendY":17}}}},
   {"transform":[{"filter":"datum.p==='H3' && datum.s==='reconstructed'"}],"mark":{"type":"line","color":"black","strokeWidth":2.75,"strokeDash":[7,4]}}
  ]}
 ]}
]
}
